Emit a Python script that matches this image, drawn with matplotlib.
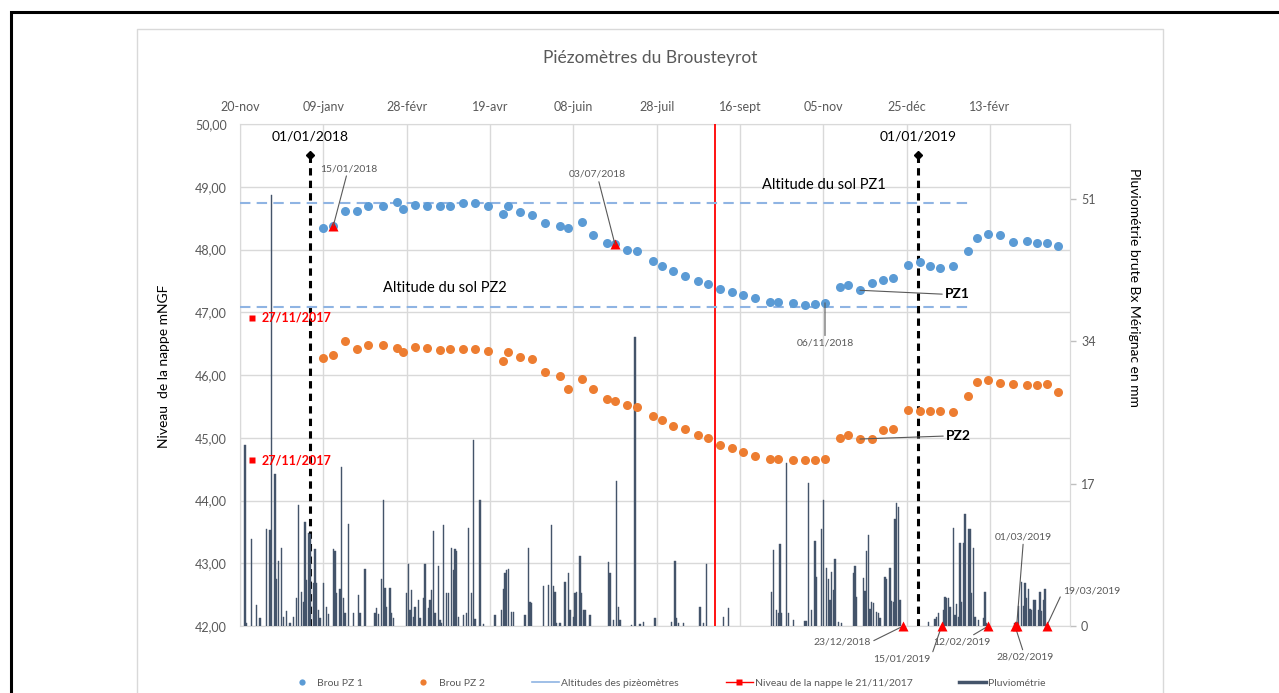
import numpy as np
import pandas as pd
import matplotlib
matplotlib.use("Agg")
import matplotlib.pyplot as plt
import matplotlib.dates as mdates
from matplotlib.lines import Line2D
from matplotlib.ticker import FuncFormatter

plt.rcParams['font.family'] = ['Lato', 'DejaVu Sans']

# --- Relevés piézométriques (mNGF) ---
dates_releves = [
    "2018-01-09", "2018-01-15", "2018-01-22", "2018-01-29", "2018-02-05", "2018-02-14", "2018-02-22", "2018-02-26",
    "2018-03-05", "2018-03-12", "2018-03-20", "2018-03-26", "2018-04-03", "2018-04-10", "2018-04-18", "2018-04-27",
    "2018-04-30", "2018-05-07", "2018-05-14", "2018-05-22", "2018-05-31", "2018-06-05", "2018-06-13", "2018-06-20",
    "2018-06-28", "2018-07-03", "2018-07-10", "2018-07-16", "2018-07-26", "2018-07-31", "2018-08-07", "2018-08-14",
    "2018-08-22", "2018-08-28", "2018-09-04", "2018-09-11", "2018-09-18", "2018-09-25", "2018-10-04", "2018-10-09",
    "2018-10-18", "2018-10-25", "2018-10-31", "2018-11-06", "2018-11-15", "2018-11-20", "2018-11-27", "2018-12-04",
    "2018-12-11", "2018-12-17", "2018-12-26", "2019-01-02", "2019-01-08", "2019-01-14", "2019-01-22", "2019-01-31",
    "2019-02-05", "2019-02-12", "2019-02-19", "2019-02-27", "2019-03-07", "2019-03-13", "2019-03-19", "2019-03-26",
]
brou_pz1 = [
    48.35, 48.38, 48.61, 48.62, 48.69, 48.70, 48.75, 48.65, 48.71, 48.69, 48.69, 48.70, 48.74, 48.74, 48.69, 48.56,
    48.69, 48.59, 48.55, 48.42, 48.38, 48.34, 48.44, 48.23, 48.10, 48.08, 48.00, 47.97, 47.82, 47.74, 47.66, 47.58,
    47.50, 47.45, 47.37, 47.32, 47.27, 47.22, 47.17, 47.16, 47.14, 47.12, 47.13, 47.15, 47.40, 47.43, 47.35, 47.47,
    47.51, 47.55, 47.75, 47.80, 47.73, 47.71, 47.74, 47.98, 48.19, 48.24, 48.23, 48.12, 48.13, 48.10, 48.11, 48.06,
]
brou_pz2 = [
    46.27, 46.32, 46.54, 46.42, 46.48, 46.48, 46.43, 46.36, 46.45, 46.43, 46.40, 46.41, 46.42, 46.42, 46.38, 46.22,
    46.37, 46.29, 46.25, 46.04, 45.99, 45.77, 45.94, 45.77, 45.62, 45.59, 45.52, 45.49, 45.34, 45.28, 45.18, 45.14,
    45.04, 44.99, 44.88, 44.83, 44.77, 44.71, 44.66, 44.66, 44.65, 44.64, 44.64, 44.66, 45.00, 45.05, 44.98, 44.98,
    45.12, 45.14, 45.45, 45.43, 45.43, 45.42, 45.41, 45.67, 45.89, 45.92, 45.88, 45.86, 45.84, 45.84, 45.86, 45.73,
]

# altitudes du sol des piézomètres
alt_sol_pz1 = 48.74
alt_sol_pz2 = 47.09
fin_altitudes = "2019-02-03"

# niveau de la nappe le 27/11/2017
date_nappe = "2017-11-27"
nappe_pz = [46.91, 44.64]

# --- Pluviométrie brute Bx Mérignac (jours depuis le 20/11/2017, mm) ---
debut_pluie = "2017-11-20"
pluie_jour = [
    3, 4, 7, 10, 12, 16, 18, 19, 21, 22, 23, 25, 26, 28, 30, 32, 34, 35, 37, 38, 39, 40, 41, 42, 44, 45, 46, 47, 48,
    50, 52, 53, 56, 57, 58, 60, 61, 62, 63, 65, 68, 71, 72, 75, 81, 82, 83, 85, 86, 87, 88, 90, 91, 92,
    100, 101, 102, 103, 104, 105, 107, 108, 110, 111, 113, 114, 115, 116, 117, 119, 120, 121, 122, 124, 125, 127,
    128, 129, 130, 131, 134, 136, 137, 139, 140, 141, 144, 146,
    153, 157, 158, 159, 160, 161, 163, 164, 171, 173, 174, 175, 182, 185, 187, 188, 189, 190, 192, 195, 197, 198,
    200, 201, 202, 204, 205, 206, 207, 210, 221, 222, 224, 226, 227, 228, 235, 237, 240, 242,
    249, 259, 261, 262, 263, 266, 276, 278, 280, 290, 293, 319, 320, 322, 323, 324, 325, 328, 329, 332, 339, 340,
    341, 343, 345, 346, 349, 350, 352, 353, 354, 355, 356, 357, 359, 361,
    368, 369, 370, 374, 375, 376, 377, 378, 379, 380, 382, 383, 384, 387, 388, 390, 391, 392, 393, 394, 395, 396,
    413, 417, 418, 419, 422, 423, 424, 425, 426, 428, 429, 430, 431, 432, 433, 434, 435, 437, 438, 439, 440, 441,
    443, 446, 447, 448,
    465, 466, 467, 469, 470, 471, 472, 473, 474, 475, 476, 477, 479, 480, 481, 482, 483,
]
pluie_mm = [
    21.6, 0.4, 10.4, 2.5, 0.9, 11.6, 11.4, 51.4, 18.1, 5.6, 7.7, 9.3, 1.1, 1.8, 0.3, 1.1, 3.3, 14.4, 4.0, 2.9, 12.4,
    5.5, 11.1, 11.0, 5.1, 9.2, 5.1, 1.9, 0.9,
    5.1, 2.3, 1.4, 9.2, 8.9, 3.9, 4.4, 19.0, 3.3, 1.5, 12.2, 1.5, 3.7, 1.5, 6.8, 1.5, 2.1, 1.4, 5.6, 15.0, 4.5, 2.3,
    4.5, 1.5, 0.9,
    3.9, 7.4, 1.9, 4.3, 1.1, 2.3, 3.1, 0.9, 3.3, 7.4, 2.1, 3.1, 4.3, 11.3, 1.5, 7.2, 0.7, 0.4, 12.0, 3.9, 3.9, 9.3,
    6.7, 9.2, 8.9, 1.1, 1.3, 1.5, 11.7, 3.9, 22.2, 0.8, 15.0, 0.2,
    1.3, 1.9, 4.4, 6.3, 6.7, 6.8, 1.7, 1.7, 1.3, 9.3, 2.9, 2.7, 4.8, 4.9, 12.0, 4.8, 4.0, 0.3, 0.3, 5.2, 6.3, 1.9,
    1.1, 3.9, 4.0, 8.4, 3.9, 1.9, 1.9, 1.3, 7.6, 6.3, 0.7, 17.3, 2.3, 0.7, 0.1, 34.5, 0.2, 0.5,
    0.9, 0.5, 7.8, 1.0, 0.4, 0.3, 2.3, 0.3, 7.4, 1.1, 2.1, 4.0, 9.1, 1.9, 1.5, 9.8, 1.5, 19.4, 1.5, 0.7, 0.6, 0.6,
    17.1, 1.9, 10.1, 5.9, 11.6, 15.0, 6.9, 5.6, 3.1, 6.4, 4.3, 8.0, 0.5, 0.3,
    6.3, 7.1, 3.5, 5.7, 4.2, 9.0, 10.9, 2.0, 2.9, 2.8, 1.7, 1.5, 1.0, 5.9, 5.6, 6.9, 3.0, 2.9, 12.8, 14.7, 14.2, 3.1,
    0.5, 0.8, 1.1, 1.5, 1.9, 3.5, 3.3, 3.3, 2.3, 11.7, 1.3, 2.6, 1.1, 9.9, 2.9, 9.9, 13.4, 11.6, 11.6, 3.9, 9.3, 1.1,
    0.7, 1.0, 4.1, 0.3,
    0.3, 0.5, 2.4, 5.2, 2.4, 5.1, 3.3, 4.4, 2.0, 1.9, 3.1, 3.1, 1.9, 4.1, 1.8, 3.1, 4.4,
]

# repères
dates_annee = ["2018-01-01", "2019-01-01"]
haut_repere = 49.51
date_ligne_rouge = "2018-09-01"
dates_tri_pz1 = ["2018-01-15", "2018-07-03"]
dates_tri_pluie = ["2018-12-23", "2019-01-15", "2019-02-12", "2019-02-28", "2019-03-01", "2019-03-19"]

# axe des dates (haut)
x_debut, x_fin = "2017-11-20", "2019-04-02"
ticks_dates = ["2017-11-20", "2018-01-09", "2018-02-28", "2018-04-19", "2018-06-08",
               "2018-07-28", "2018-09-16", "2018-11-05", "2018-12-25", "2019-02-13"]
ticks_labels = ["20-nov", "09-janv", "28-févr", "19-avr", "08-juin",
                "28-juil", "16-sept", "05-nov", "25-déc", "13-févr"]
ticks_pluie = [0, 17, 34, 51]

BLEU = '#5B9BD5'
ORANGE = '#ED7D31'
BLEU_CLAIR = '#8FB4E3'
ARDOISE = '#44546A'
GRIS = '#595959'
GRILLE = '#D9D9D9'

W, H = 1279, 693
fig = plt.figure(figsize=(W / 100, H / 100), dpi=100)


def trait_px(xs, ys, **kw):
    fig.add_artist(Line2D([x / W for x in xs], [1 - y / H for y in ys],
                          transform=fig.transFigure, **kw))


# cadre du document + cadre du graphique
trait_px([10.5, 10.5, 1279], [693, 11.5, 11.5], color='black', lw=2.2, solid_joinstyle='miter')
trait_px([137, 137, 1163, 1163], [693, 29, 29, 693], color=GRILLE, lw=1)

fig.text(650 / W, 1 - 58 / H, "Piézomètres du Brousteyrot", ha='center', va='center',
         fontsize=12.5, color=GRIS)

ax = fig.add_axes([240 / W, 67 / H, 830 / W, 502 / H])
ax2 = ax.twinx()
ax3 = ax.twinx()

d_releves = pd.to_datetime(dates_releves)
pz1 = pd.Series(brou_pz1, index=d_releves)
d_pluie = pd.Timestamp(debut_pluie) + pd.to_timedelta(pluie_jour, unit='D')

# --- axe principal : grille, repères ---
ax.set_xlim(pd.Timestamp(x_debut), pd.Timestamp(x_fin))
ax.set_ylim(42, 50)
ax.set_yticks(np.arange(42, 51, 1))
ax.yaxis.set_major_formatter(FuncFormatter(lambda v, p: f"{v:.2f}".replace('.', ',')))
ax.xaxis.tick_top()
ax.set_xticks(pd.to_datetime(ticks_dates))
ax.set_xticklabels(ticks_labels)
ax.tick_params(axis='x', length=0, pad=8, labelsize=9, labelcolor=GRIS)
ax.tick_params(axis='y', length=0, pad=9.5, labelsize=9, labelcolor=GRIS)
ax.grid(True, color=GRILLE, lw=1)
ax.set_axisbelow(True)
for s in ax.spines.values():
    s.set_color(GRILLE)
ax.set_ylabel("Niveau  de la nappe mNGF", fontsize=10, color='black')
ax.yaxis.set_label_coords(-0.0843, 0.518)

for d in dates_annee:
    ax.plot([pd.Timestamp(d)] * 2, [42, haut_repere], color='black', lw=2.2, ls=(0, (2.4, 1.7)), zorder=3)
    ax.plot([pd.Timestamp(d)], [haut_repere], marker='D', color='black', ms=4, zorder=4)
    ax.annotate(pd.Timestamp(d).strftime("%d/%m/%Y"), xy=(mdates.date2num(pd.Timestamp(d)), haut_repere),
                xytext=(0, 18), textcoords='offset pixels', ha='center', va='center', fontsize=10,
                color='black')

ax.axvline(pd.Timestamp(date_ligne_rouge), color='red', lw=1.3, zorder=3)
for alt in (alt_sol_pz1, alt_sol_pz2):
    ax.plot([pd.Timestamp(x_debut), pd.Timestamp(fin_altitudes)], [alt, alt], color=BLEU_CLAIR,
            lw=1.5, ls=(0, (5, 3)), zorder=3)
ax.text(0.7036, 0.8785, "Altitude du sol PZ1", transform=ax.transAxes, ha='center', va='center',
        fontsize=10.5, color='black')
ax.text(0.2464, 0.6739, "Altitude du sol PZ2", transform=ax.transAxes, ha='center', va='center',
        fontsize=10.5, color='black')

# --- axe secondaire : pluviométrie ---
ax2.bar(d_pluie, pluie_mm, width=0.8, color=ARDOISE, edgecolor=ARDOISE, linewidth=0.3, zorder=2)
ax2.set_ylim(0, 59.9)
ax2.set_yticks(ticks_pluie)
ax2.tick_params(axis='y', length=4, width=1, color='#BFBFBF', pad=4, labelsize=9, labelcolor=GRIS)
for k, s in ax2.spines.items():
    s.set_visible(k == 'right')
ax2.spines['right'].set_color(GRILLE)
ax2.set_ylabel("Pluviométrie brute Bx Mérignac en mm", fontsize=10, rotation=270, color='black')
ax2.yaxis.set_label_coords(1.084, 0.675)

# --- niveaux des piézomètres ---
ax3.set_ylim(42, 50)
ax3.yaxis.set_visible(False)
for s in ax3.spines.values():
    s.set_visible(False)
ax3.plot(d_releves, brou_pz1, ls='none', marker='o', ms=6.5, color=BLEU, mec='none')
ax3.plot(d_releves, brou_pz2, ls='none', marker='o', ms=6.5, color=ORANGE, mec='none')
ax3.plot([pd.Timestamp(date_nappe)] * 2, nappe_pz, ls='none', marker='s', ms=5, color='red', mec='none')
for v in nappe_pz:
    ax3.annotate(pd.Timestamp(date_nappe).strftime("%d/%m/%Y"), xy=(mdates.date2num(pd.Timestamp(date_nappe)), v),
                 xytext=(10, 0), textcoords='offset pixels', ha='left', va='center', fontsize=9,
                 fontweight='bold', color='red')

tri1 = pd.to_datetime(dates_tri_pz1)
ax3.plot(tri1, pz1[tri1].values, ls='none', marker='^', ms=6.5, color='red', mec='none')
tri2 = pd.to_datetime(dates_tri_pluie)
ax3.plot(tri2, [42] * len(tri2), ls='none', marker='^', ms=6.5, color='red', mec='none', clip_on=False, zorder=5)


def note(texte, date, val, dx, dy, ha='center', relpos=(0.5, 0.5), size=7.5, weight='normal', color=GRIS):
    ax3.annotate(texte, xy=(mdates.date2num(pd.Timestamp(date)), val), xytext=(dx, dy),
                 textcoords='offset pixels', ha=ha, va='center', fontsize=size, fontweight=weight,
                 color=color, annotation_clip=False,
                 arrowprops=dict(arrowstyle='-', color=GRIS, lw=0.8, shrinkA=0, shrinkB=0, relpos=relpos))


for d in dates_tri_pz1:
    note(pd.Timestamp(d).strftime("%d/%m/%Y"), d, pz1[pd.Timestamp(d)], 15 if d < "2018-03-01" else -18,
         57 if d < "2018-03-01" else 70)
note("06/11/2018", "2018-11-06", pz1[pd.Timestamp("2018-11-06")], 0, -40)
note("PZ1", "2018-11-27", pz1[pd.Timestamp("2018-11-27")], 85, -4, ha='left', relpos=(0, 0.5),
     size=10, weight='bold', color='black')
note("PZ2", "2018-11-27", brou_pz2[dates_releves.index("2018-11-27")], 86, 3, ha='left', relpos=(0, 0.5),
     size=10, weight='bold', color='black')

offsets_pluie = [(-61, -16, (1, 0.5)), (-40, -33, (1, 0.5)), (-27, -16, (0.5, 0.5)),
                 (10, -31, (0.5, 0.5)), (7, 89, (0.5, 0.5)), (45, 35, (0, 0.5))]
for d, (dx, dy, rp) in zip(dates_tri_pluie, offsets_pluie):
    note(pd.Timestamp(d).strftime("%d/%m/%Y"), d, 42, dx, dy, relpos=rp)

ax3.set_xlim(pd.Timestamp(x_debut), pd.Timestamp(x_fin))

# --- légende ---
handles = [
    Line2D([], [], ls='none', marker='o', ms=4.5, color=BLEU, mec='none'),
    Line2D([], [], ls='none', marker='o', ms=4.5, color=ORANGE, mec='none'),
    Line2D([], [], color=BLEU_CLAIR, lw=1.2),
    Line2D([], [], color='red', lw=1, marker='s', ms=4, mec='none'),
    Line2D([], [], color=ARDOISE, lw=2.5),
]
labels = ["Brou PZ 1", "Brou PZ 2", "Altitudes des pizèomètres", "Niveau de la nappe le 21/11/2017", "Pluviométrie"]
fig.legend(handles, labels, loc='center', bbox_to_anchor=(667 / W, 1 - 683 / H), ncol=5, frameon=False,
           fontsize=7.5, handlelength=2.6, handletextpad=0.2, columnspacing=4.5, labelcolor=GRIS)

fig.savefig('out.png', dpi=100)
